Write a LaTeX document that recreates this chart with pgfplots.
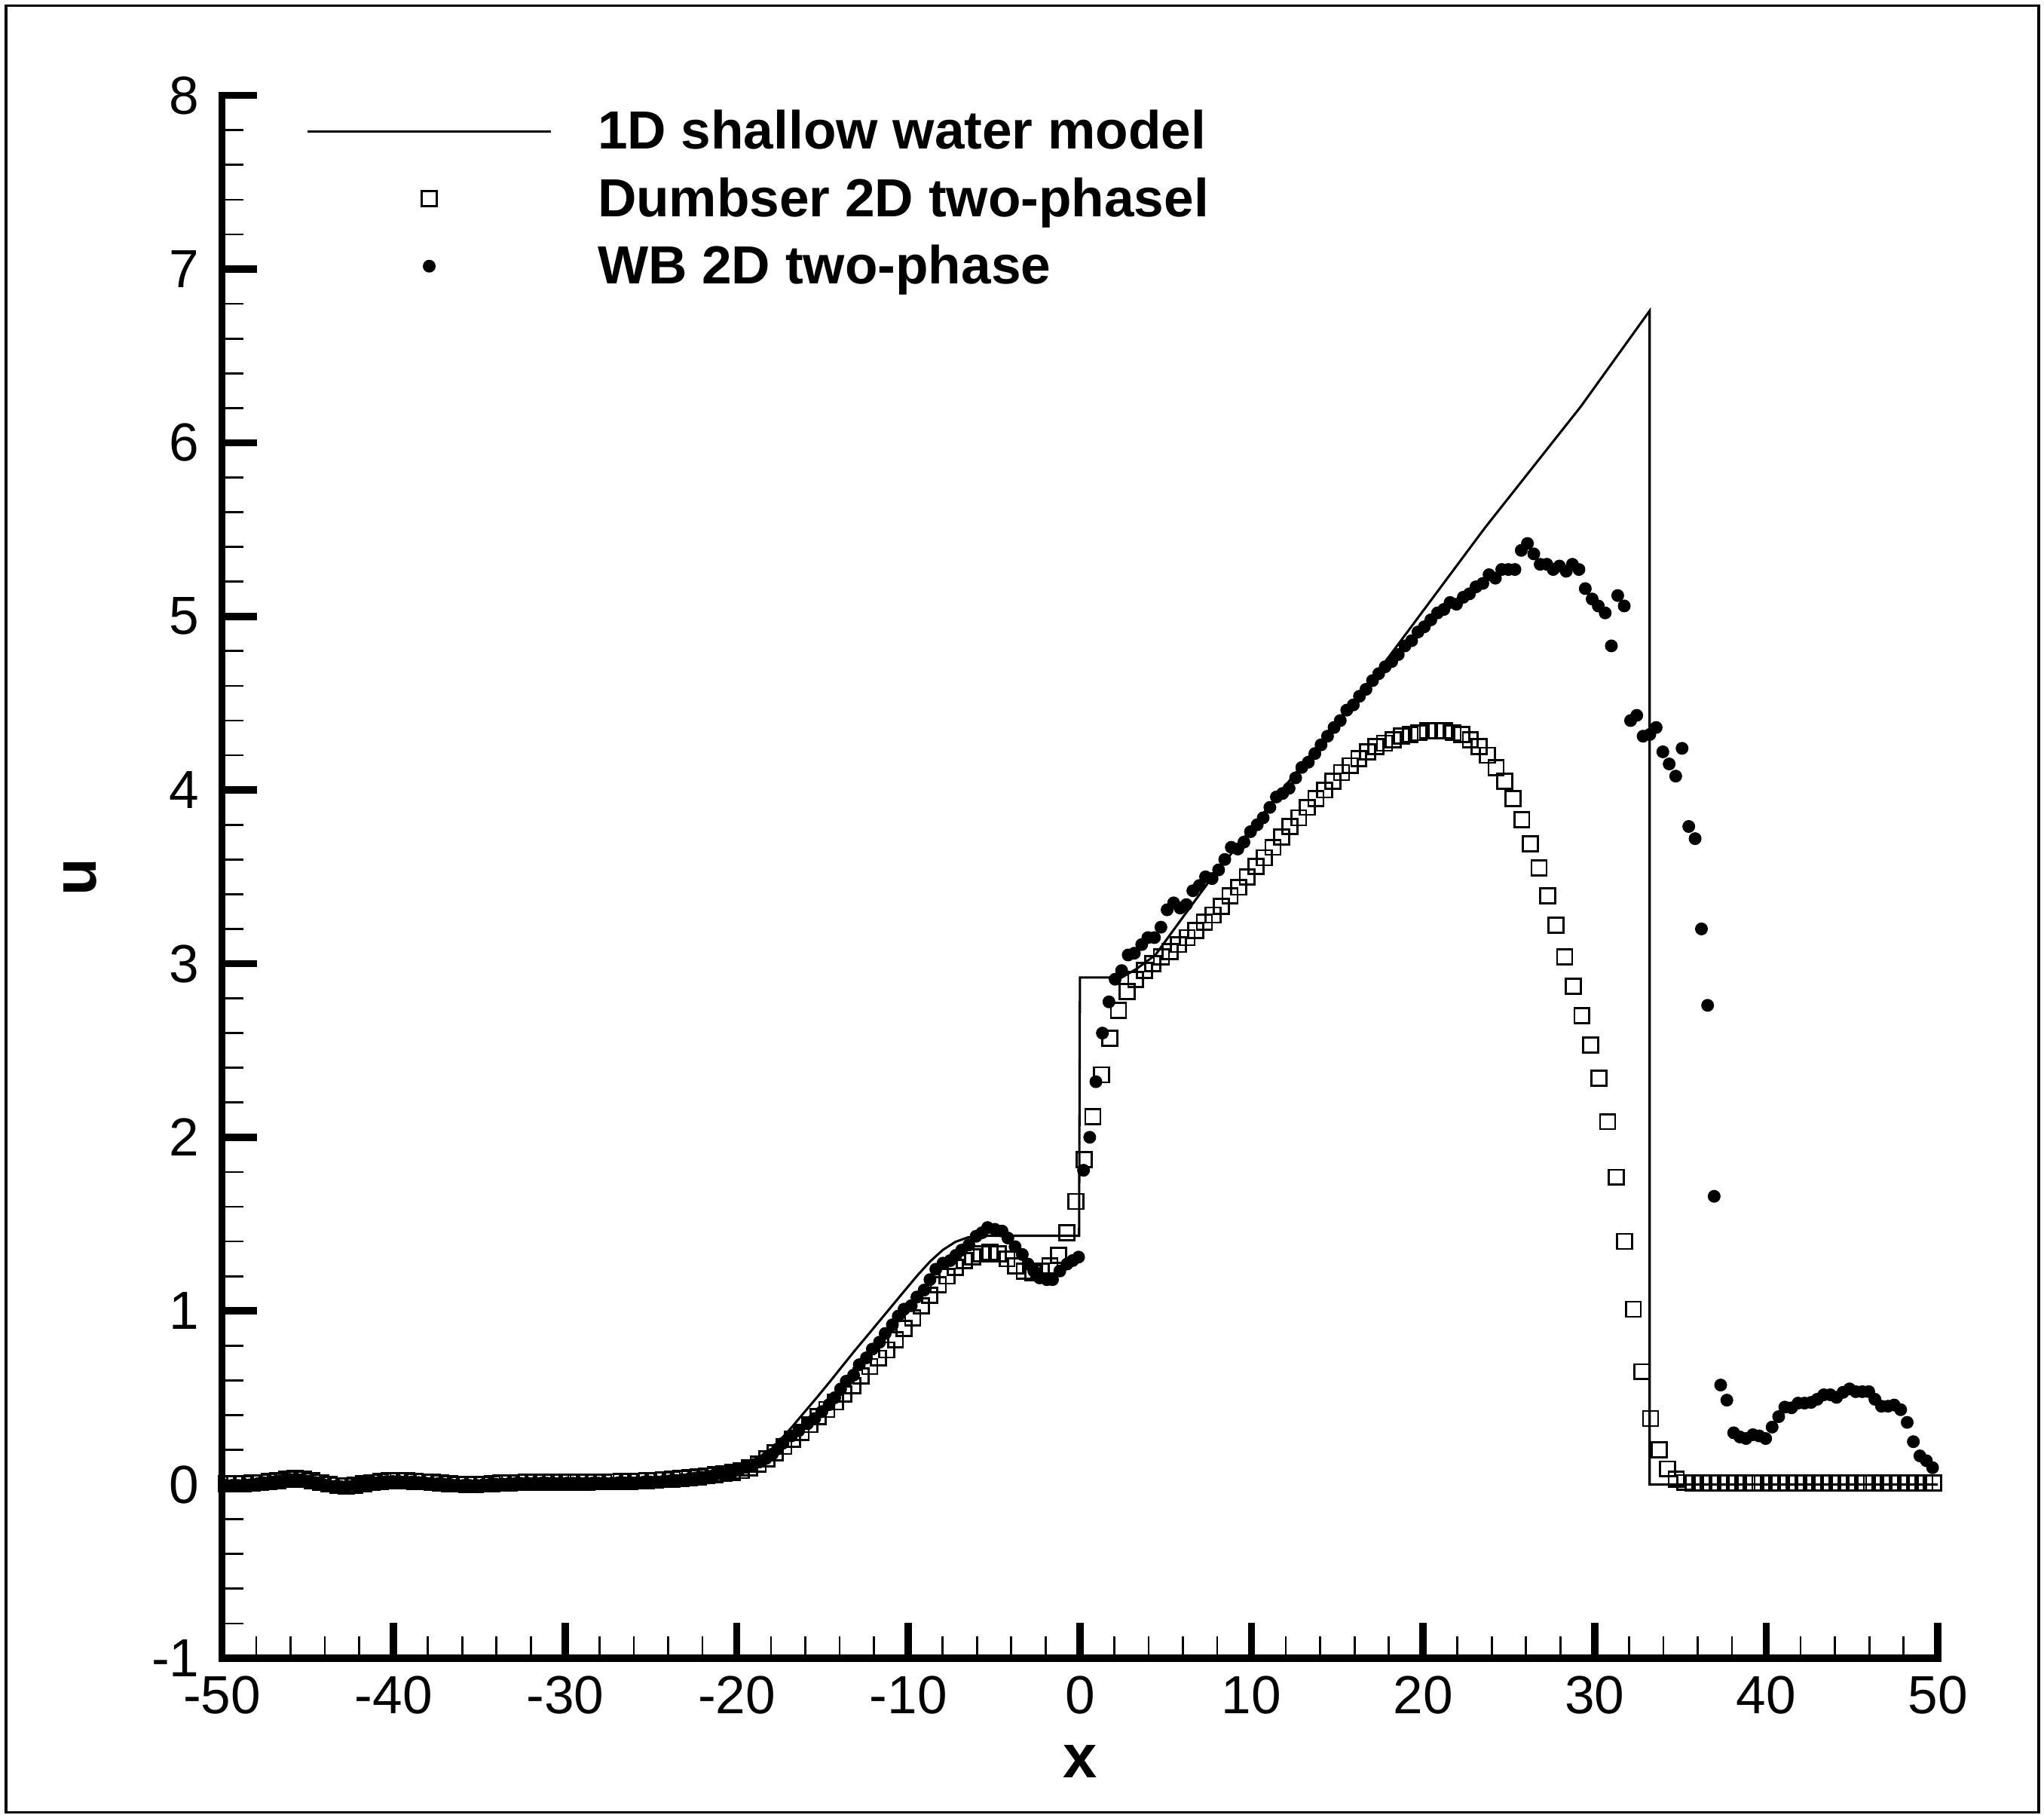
\documentclass[border=0pt]{standalone}
\usepackage{fontspec}
\setmainfont{Liberation Sans}
\usepackage{pgfplots}
\pgfplotsset{compat=1.18}
\pgfplotsset{
  lineleg/.style={legend image code/.code={\draw[##1] (0pt,0.8pt) -- (47.5pt,0.8pt);}},
  markleg/.style={legend image code/.code={\draw[mark repeat=2,mark phase=2,##1] plot coordinates {(0pt,0.8pt) (23.75pt,0.8pt) (47.5pt,0.8pt)};}},
}
\begin{document}
\begin{tikzpicture}
\useasboundingbox (-43.44pt,-31.27pt) rectangle (356.56pt,324.48pt);
\draw[line width=0.45pt] (-42.26pt,-30.24pt) rectangle (355.53pt,323.3pt);
\begin{axis}[
  at={(0pt,0pt)}, anchor=south west,
  scale only axis, width=335.8pt, height=305.8pt,
  xmin=-50, xmax=50, ymin=-1, ymax=8,
  axis x line*=bottom, axis y line*=left,
  axis line style={line width=1.4pt, line cap=rect},
  xtick={-50,-40,...,50}, ytick={-1,0,...,8},
  minor x tick num=4, minor y tick num=4,
  tick align=inside,
  major tick length=6.9pt, minor tick length=4.2pt,
  every major tick/.append style={line width=1.4pt, black},
  every minor tick/.append style={line width=0.4pt, black},
  /pgf/number format/assume math mode=true,
  tick label style={font=\fontsize{10.5}{12}\selectfont},
  yticklabel style={xshift=-0.9pt},
  xlabel={x}, ylabel={u},
  label style={font=\bfseries\fontsize{12}{14}\selectfont},
  xlabel style={at={(axis description cs:0.5,-0.0661)}, anchor=center},
  ylabel style={at={(axis description cs:-0.0825,0.5)}, anchor=center},
  legend cell align=left,
  legend style={at={(0.0494,0.9905)}, anchor=north west, draw=none, fill=none,
    inner sep=0pt, outer sep=0pt, row sep=3.4pt, column sep=9.0pt,
    nodes={inner sep=0pt, text height=7.6pt, text depth=2.2pt,
      font=\bfseries\fontsize{10.5}{12}\selectfont}},
]
\addplot[black, line width=0.45pt, lineleg]
coordinates {
(-50,0) (-23,0) (-21.4,0.01) (-20.5,0.03) (-19.7,0.065) (-18.96,0.10) (-18.2,0.175)
(-17.5,0.253) (-16.75,0.335) (-16.03,0.42) (-15.3,0.505) (-14.57,0.593) (-13.84,0.683)
(-13.1,0.774) (-12.37,0.86) (-11.64,0.947) (-10.91,1.034) (-10.18,1.121) (-9.45,1.207)
(-8.71,1.287) (-7.98,1.352) (-7.25,1.398) (-6.51,1.424) (-5.78,1.433) (-0.05,1.433)
(0,2.92) (2.43,2.92) (3.3,2.97) (4.4,3.05)
(5.5,3.2) (7.5,3.47) (12.5,4.09) (17.8,4.74) (23.6,5.51) (29.2,6.21) (33.2,6.76)
(33.2,0) (50,0)
};
\addlegendentry{1D shallow water model}
\addplot[black, only marks, mark=square, mark size=1.47pt, line width=0.4pt, markleg]
coordinates {
(-49.75,0.005) (-49.25,0.005) (-48.75,0.005) (-48.25,0.008) (-47.75,0.012) (-47.25,0.017)
(-46.75,0.022) (-46.25,0.03) (-45.75,0.035) (-45.25,0.03) (-44.75,0.022) (-44.25,0.012)
(-43.75,0.002) (-43.25,-0.006) (-42.75,-0.008) (-42.25,-0.004) (-41.75,0.004) (-41.25,0.012)
(-40.75,0.018) (-40.25,0.021) (-39.75,0.022) (-39.25,0.021) (-38.75,0.019) (-38.25,0.016)
(-37.75,0.013) (-37.25,0.009) (-36.75,0.005) (-36.25,0.002) (-35.75,0) (-35.25,0)
(-34.75,0.002) (-34.25,0.005) (-33.75,0.008) (-33.25,0.01) (-32.75,0.012) (-32.25,0.013)
(-31.75,0.014) (-31.25,0.014) (-30.75,0.014) (-30.25,0.014) (-29.75,0.014) (-29.25,0.014)
(-28.75,0.014) (-28.25,0.015) (-27.75,0.015) (-27.25,0.016) (-26.75,0.017) (-26.25,0.018)
(-25.75,0.02) (-25.25,0.022) (-24.75,0.025) (-24.25,0.028) (-23.75,0.031) (-23.25,0.035)
(-22.75,0.04) (-22.25,0.045) (-21.75,0.05) (-21.25,0.056) (-20.75,0.063) (-20.25,0.071)
(-19.75,0.081) (-19.25,0.095) (-18.75,0.118) (-18.25,0.148) (-17.75,0.182) (-17.25,0.22)
(-16.75,0.26) (-16.25,0.30) (-15.75,0.345) (-15.25,0.39) (-14.75,0.432) (-14.25,0.475)
(-13.75,0.52) (-13.25,0.57) (-12.75,0.625) (-12.25,0.68) (-11.75,0.728) (-11.25,0.775)
(-10.75,0.835) (-10.25,0.90) (-9.75,0.96) (-9.25,1.03) (-8.75,1.09) (-8.25,1.15)
(-7.75,1.20) (-7.25,1.25) (-6.75,1.29) (-6.25,1.31) (-5.75,1.33) (-5.25,1.34)
(-4.75,1.33) (-4.25,1.30) (-3.75,1.26) (-3.25,1.23) (-2.75,1.22) (-2.25,1.23)
(-1.75,1.26) (-1.25,1.32) (-0.75,1.45) (-0.25,1.63) (0.25,1.87) (0.75,2.12)
(1.25,2.36) (1.75,2.57) (2.25,2.73) (2.75,2.84) (3.25,2.91) (3.75,2.96)
(4.25,3.00) (4.75,3.04) (5.25,3.07) (5.75,3.11) (6.25,3.15) (6.75,3.19)
(7.25,3.24) (7.75,3.28) (8.25,3.33) (8.75,3.39) (9.25,3.44) (9.75,3.50)
(10.25,3.56) (10.75,3.61) (11.25,3.67) (11.75,3.73) (12.25,3.79) (12.75,3.84)
(13.25,3.90) (13.75,3.95) (14.25,4.00) (14.75,4.05) (15.25,4.10) (15.75,4.14)
(16.25,4.18) (16.75,4.22) (17.25,4.25) (17.75,4.27) (18.25,4.29) (18.75,4.31)
(19.25,4.32) (19.75,4.33) (20.25,4.34) (20.75,4.34) (21.25,4.34) (21.75,4.33)
(22.25,4.32) (22.75,4.29) (23.25,4.25) (23.75,4.20) (24.25,4.13) (24.75,4.05)
(25.25,3.95) (25.75,3.83) (26.25,3.69) (26.75,3.55) (27.25,3.39) (27.75,3.22)
(28.25,3.04) (28.75,2.87) (29.25,2.70) (29.75,2.53) (30.25,2.34) (30.75,2.09)
(31.25,1.77) (31.75,1.40) (32.25,1.01) (32.75,0.65) (33.25,0.38) (33.75,0.20)
(34.25,0.09) (34.75,0.03) (35.25,0.012) (35.75,0.01) (36.25,0.01) (36.75,0.01)
(37.25,0.01) (37.75,0.01) (38.25,0.01) (38.75,0.01) (39.25,0.01) (39.75,0.01)
(40.25,0.01) (40.75,0.01) (41.25,0.01) (41.75,0.01) (42.25,0.01) (42.75,0.01)
(43.25,0.01) (43.75,0.01) (44.25,0.01) (44.75,0.01) (45.25,0.01) (45.75,0.01)
(46.25,0.01) (46.75,0.01) (47.25,0.01) (47.75,0.01) (48.25,0.01) (48.75,0.01)
(49.25,0.01) (49.75,0.01)
};
\addlegendentry{Dumbser 2D two-phasel}
\addplot[black, only marks, mark=*, mark size=1.05pt, markleg]
coordinates {
(-49.80,-0.005) (-49.43,-0.005) (-49.05,-0.005) (-48.68,0) (-48.30,0) (-47.93,0.005)
(-47.55,0.01) (-47.18,0.015) (-46.80,0.02) (-46.43,0.025) (-46.05,0.03) (-45.68,0.032)
(-45.30,0.028) (-44.93,0.02) (-44.55,0.012) (-44.18,0.004) (-43.80,-0.004) (-43.43,-0.01)
(-43.05,-0.012) (-42.68,-0.01) (-42.30,-0.005) (-41.93,0.002) (-41.55,0.008) (-41.18,0.012)
(-40.80,0.015) (-40.43,0.017) (-40.05,0.018) (-39.68,0.018) (-39.30,0.017) (-38.93,0.015)
(-38.55,0.012) (-38.18,0.01) (-37.80,0.008) (-37.43,0.005) (-37.05,0.002) (-36.68,0)
(-36.30,-0.003) (-35.93,-0.005) (-35.55,-0.005) (-35.18,-0.004) (-34.80,-0.002) (-34.43,0)
(-34.05,0.002) (-33.68,0.004) (-33.30,0.005) (-32.93,0.006) (-32.55,0.007) (-32.18,0.008)
(-31.80,0.008) (-31.43,0.008) (-31.05,0.008) (-30.68,0.008) (-30.30,0.008) (-29.93,0.008)
(-29.55,0.008) (-29.18,0.008) (-28.80,0.008) (-28.43,0.008) (-28.05,0.008) (-27.68,0.008)
(-27.30,0.008) (-26.93,0.01) (-26.55,0.01) (-26.18,0.012) (-25.80,0.012) (-25.43,0.014)
(-25.05,0.015) (-24.68,0.016) (-24.30,0.018) (-23.93,0.021) (-23.55,0.024) (-23.18,0.028)
(-22.80,0.032) (-22.43,0.037) (-22.05,0.042) (-21.68,0.048) (-21.30,0.055) (-20.93,0.062)
(-20.55,0.07) (-20.18,0.08) (-19.80,0.09) (-19.43,0.10) (-19.05,0.115) (-18.68,0.13)
(-18.30,0.15) (-17.93,0.175) (-17.62,0.205) (-17.31,0.238) (-16.81,0.28) (-16.39,0.31)
(-15.88,0.35) (-15.46,0.38) (-15.04,0.42) (-14.62,0.46) (-14.29,0.50) (-13.95,0.55)
(-13.62,0.595) (-13.19,0.63) (-12.86,0.69) (-12.44,0.73) (-12.1,0.78) (-11.68,0.82)
(-11.35,0.87) (-10.93,0.92) (-10.59,0.97) (-10.25,1.01) (-9.83,1.03) (-9.5,1.08)
(-9.08,1.12) (-8.74,1.18) (-8.4,1.24) (-7.98,1.275) (-7.56,1.29) (-7.23,1.32)
(-6.89,1.35) (-6.47,1.38) (-6.05,1.43) (-5.71,1.45) (-5.38,1.48) (-4.96,1.47)
(-4.54,1.46) (-4.2,1.42) (-3.78,1.37) (-3.36,1.325) (-3.03,1.27) (-2.69,1.23)
(-2.35,1.19) (-1.93,1.18) (-1.6,1.18) (-1.17,1.23) (-0.75,1.27) (-0.42,1.29)
(-0.08,1.31) (0.21,1.81) (0.57,2.00) (0.93,2.32) (1.31,2.60) (1.69,2.78)
(2.05,2.91) (2.43,2.96) (2.81,3.05) (3.17,3.06) (3.6,3.11) (3.96,3.15)
(4.34,3.15) (4.72,3.21) (5.08,3.31) (5.46,3.35) (5.84,3.32) (6.2,3.34)
(6.58,3.42) (6.96,3.45) (7.32,3.50) (7.70,3.49) (8.08,3.54) (8.44,3.60)
(8.82,3.67) (9.2,3.66) (9.56,3.70) (9.94,3.76) (10.33,3.80) (10.68,3.84)
(11.07,3.90) (11.45,3.96) (11.81,3.98) (12.19,4.01) (12.57,4.07) (12.93,4.13)
(13.31,4.16) (13.69,4.21) (14.05,4.26) (14.43,4.31) (14.81,4.36) (15.17,4.40)
(15.55,4.46) (15.93,4.49) (16.29,4.54) (16.67,4.58) (17.05,4.63) (17.41,4.67)
(17.79,4.71) (18.17,4.74) (18.55,4.78) (18.94,4.83) (19.33,4.86) (19.70,4.91)
(20.07,4.94) (20.45,4.98) (20.84,5.02) (21.21,5.04) (21.57,5.08) (21.94,5.07)
(22.34,5.11) (22.70,5.13) (23.08,5.17) (23.48,5.19) (23.84,5.24) (24.21,5.22)
(24.58,5.27) (24.97,5.27) (25.35,5.27) (25.72,5.38) (26.08,5.42) (26.45,5.36)
(26.82,5.30) (27.21,5.30) (27.58,5.27) (27.94,5.29) (28.34,5.26) (28.70,5.30)
(29.08,5.27) (29.45,5.16) (29.85,5.10) (30.21,5.06) (30.61,5.02) (30.97,4.83)
(31.34,5.12) (31.72,5.06) (32.09,4.40) (32.45,4.43) (32.82,4.31) (33.21,4.32)
(33.58,4.36) (33.97,4.22) (34.34,4.15) (34.72,4.08) (35.09,4.24) (35.48,3.79)
(35.85,3.72) (36.22,3.20) (36.58,2.76) (36.96,1.66) (37.34,0.573) (37.70,0.486)
(38.10,0.298) (38.46,0.274) (38.82,0.265) (39.22,0.287) (39.58,0.280) (39.96,0.265)
(40.34,0.331) (40.72,0.391) (41.08,0.446) (41.47,0.442) (41.85,0.469) (42.23,0.469)
(42.61,0.473) (42.97,0.491) (43.35,0.517) (43.73,0.517) (44.09,0.502) (44.47,0.531)
(44.85,0.551) (45.21,0.535) (45.59,0.535) (45.97,0.535) (46.33,0.491) (46.71,0.451)
(47.09,0.451) (47.45,0.458) (47.83,0.431) (48.21,0.358) (48.57,0.247) (48.95,0.165)
(49.33,0.137) (49.69,0.097)
};
\addlegendentry{WB 2D two-phase}
\end{axis}
\end{tikzpicture}
\end{document}
